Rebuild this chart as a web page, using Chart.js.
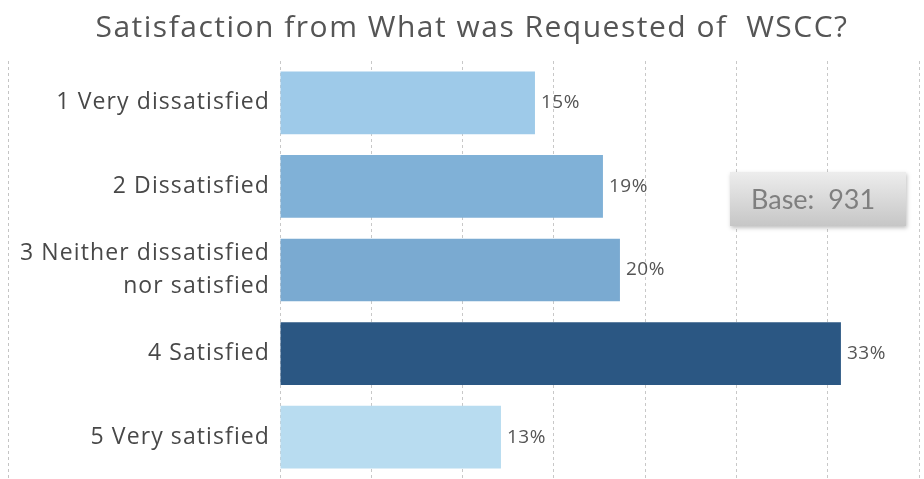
<!DOCTYPE html>
<html>
<head>
<meta charset="utf-8">
<script src="https://cdn.jsdelivr.net/npm/chart.js@4.4.1/dist/chart.umd.min.js"></script>
<style>
  html, body { margin: 0; padding: 0; background: #ffffff; }
  #wrap { width: 924px; height: 479px; position: relative; }
</style>
</head>
<body>
<div id="wrap"><canvas id="chart"></canvas></div>
<script>
// Survey answers and their shares of respondents (%)
const categories = [
  '1 Very dissatisfied',
  '2 Dissatisfied',
  ['3 Neither dissatisfied', 'nor satisfied'],
  '4 Satisfied',
  '5 Very satisfied'
];
const percentages = [15, 19, 20, 33, 13];
const barColors = ['#9ecae9', '#80b1d7', '#7aaad1', '#2b5783', '#b8dcf0'];

// Number of respondents; grid lines mark every 50 responses
const respondents = 931;
const gridStepResponses = 50;
const gridStepCount = 7;

const titleText = 'Satisfaction from What was Requested of  WSCC?';
const baseText = 'Base:  931';

const gridStep = gridStepResponses / respondents * 100;
const FONT = '"Open Sans", "Noto Sans", sans-serif';
const BOX_FONT = 'Lato, "Open Sans", sans-serif';

// Slightly loose letter spacing for all canvas text
const spacing = {
  id: 'spacing',
  beforeDraw(chart) { chart.ctx.letterSpacing = '1.1px'; }
};

// Chart heading
const heading = {
  id: 'heading',
  afterDraw(chart) {
    const ctx = chart.ctx;
    ctx.save();
    ctx.letterSpacing = '1.5px';
    ctx.font = '30px ' + FONT;
    ctx.fillStyle = '#555555';
    ctx.textAlign = 'center';
    ctx.textBaseline = 'alphabetic';
    ctx.fillText(titleText, 472, 37);
    ctx.restore();
  }
};

// Percentage labels at the end of each bar
const valueLabels = {
  id: 'valueLabels',
  afterDatasetsDraw(chart) {
    const ctx = chart.ctx;
    const meta = chart.getDatasetMeta(0);
    ctx.save();
    ctx.letterSpacing = '0.5px';
    ctx.font = '19px ' + FONT;
    ctx.fillStyle = '#555555';
    ctx.textAlign = 'left';
    ctx.textBaseline = 'middle';
    meta.data.forEach((bar, i) => {
      ctx.fillText(percentages[i] + '%', bar.x + 6, bar.y);
    });
    ctx.restore();
  }
};

// Dashed border of the label pane and the respondent-count box
const decorations = {
  id: 'decorations',
  beforeDatasetsDraw(chart) {
    const ctx = chart.ctx;
    const area = chart.chartArea;
    ctx.save();
    ctx.strokeStyle = '#c4c4c4';
    ctx.lineWidth = 1;
    ctx.setLineDash([3, 3]);
    ctx.beginPath();
    ctx.moveTo(8.5, area.top);
    ctx.lineTo(8.5, chart.height);
    ctx.stroke();
    ctx.restore();
  },
  afterDraw(chart) {
    const ctx = chart.ctx;
    const x = 730, y = 172, w = 176, h = 54;
    ctx.save();
    ctx.shadowColor = 'rgba(0,0,0,0.25)';
    ctx.shadowBlur = 4;
    ctx.shadowOffsetX = 1;
    ctx.shadowOffsetY = 2;
    const g = ctx.createLinearGradient(0, y, 0, y + h);
    g.addColorStop(0, '#ededed');
    g.addColorStop(1, '#c6c6c6');
    ctx.fillStyle = g;
    ctx.fillRect(x, y, w, h);
    ctx.restore();
    ctx.save();
    ctx.letterSpacing = '0px';
    ctx.font = '27px ' + BOX_FONT;
    ctx.fillStyle = '#7f7f7f';
    ctx.textAlign = 'left';
    ctx.textBaseline = 'alphabetic';
    ctx.fillText(baseText, x + 21, y + 37);
    ctx.restore();
  }
};

new Chart(document.getElementById('chart'), {
  type: 'bar',
  data: {
    labels: categories,
    datasets: [{
      data: percentages,
      backgroundColor: barColors,
      borderWidth: 0,
      barPercentage: 0.75,
      categoryPercentage: 1.0
    }]
  },
  options: {
    indexAxis: 'y',
    responsive: true,
    maintainAspectRatio: false,
    animation: false,
    layout: { padding: { left: 0, right: 5, top: 61, bottom: 0 } },
    plugins: {
      legend: { display: false },
      tooltip: { enabled: false },
      title: { display: false }
    },
    scales: {
      x: {
        min: 0,
        max: gridStep * gridStepCount,
        afterBuildTicks(scale) {
          const ticks = [];
          for (let i = 0; i <= gridStepCount; i++) ticks.push({ value: gridStep * i });
          scale.ticks = ticks;
        },
        afterFit(scale) { scale.height = 0; },
        ticks: { display: false },
        grid: {
          color: '#c8c8c8',
          lineWidth: 1,
          drawTicks: false
        },
        border: { display: false, dash: [3, 3] }
      },
      y: {
        afterFit(scale) {
          scale.width = 280;
          scale.paddingTop = 0;
          scale.paddingBottom = 0;
        },
        border: { display: false },
        grid: { display: false, drawTicks: false },
        ticks: {
          color: '#484848',
          padding: 10,
          font: { family: FONT, size: 23, lineHeight: 1.45 }
        }
      }
    }
  },
  plugins: [spacing, valueLabels, decorations, heading]
});
</script>
</body>
</html>
